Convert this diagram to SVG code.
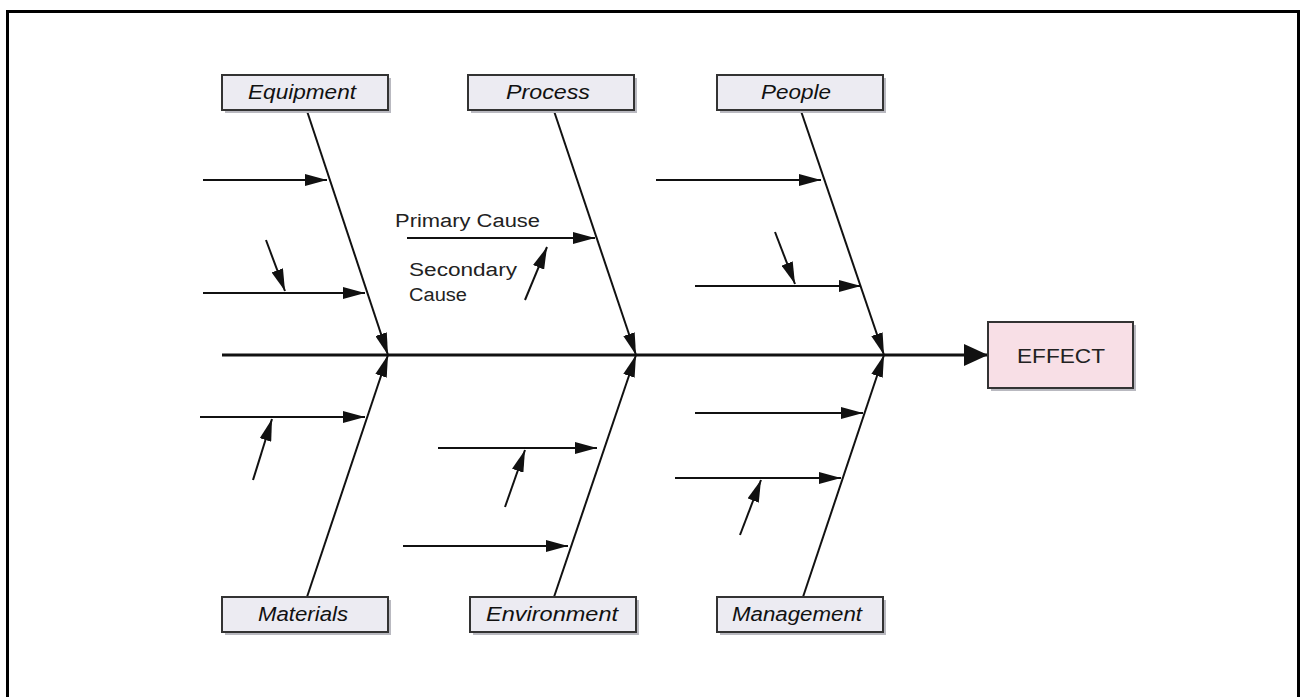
<svg xmlns="http://www.w3.org/2000/svg" width="1304" height="697" viewBox="0 0 1304 697">
  <style>
    .frame { fill: none; stroke: #000; stroke-width: 3; }
    .cat rect.box { fill: #ecebf2; stroke: #333; stroke-width: 2; }
    .shadow { fill: #b9b9c0; }
    .cat text { font-family: "Liberation Sans", Arial, sans-serif; font-style: italic; font-size: 20px; fill: #111; text-anchor: middle; }
    .effect rect.box { fill: #f8dfe6; stroke: #333; stroke-width: 2; }
    .effect text { font-family: "Liberation Sans", Arial, sans-serif; font-size: 21px; fill: #222; text-anchor: middle; }
    .note { font-family: "Liberation Sans", Arial, sans-serif; font-size: 18px; fill: #222; }
    .bone { stroke: #111; stroke-width: 2; fill: none; marker-end: url(#head); }
    .spine { stroke: #111; stroke-width: 3; fill: none; marker-end: url(#bighead); }
  </style>
  <defs>
    <marker id="head" viewBox="0 0 22 12" refX="22" refY="6" markerWidth="22" markerHeight="12" markerUnits="userSpaceOnUse" orient="auto">
      <path d="M0,0 L22,6 L0,12 Z" fill="#111"/>
    </marker>
    <marker id="bighead" viewBox="0 0 24 22" refX="24" refY="11" markerWidth="24" markerHeight="22" markerUnits="userSpaceOnUse" orient="auto">
      <path d="M0,0 L24,11 L0,22 Z" fill="#111"/>
    </marker>
  </defs>

  <rect x="0" y="0" width="1304" height="697" fill="#fff"/>
  <path class="frame" d="M7.5,700 V11.5 H1298.5 V700"/>

  <!-- connectors -->
  <g id="connectors">
    <line class="spine" x1="222" y1="355" x2="988" y2="355"/>
    <!-- main category bones -->
    <line class="bone" x1="307" y1="111" x2="388" y2="355"/>
    <line class="bone" x1="554" y1="111" x2="636" y2="355"/>
    <line class="bone" x1="801" y1="111" x2="884" y2="355"/>
    <line class="bone" x1="307" y1="597" x2="388" y2="355"/>
    <line class="bone" x1="554" y1="597" x2="636" y2="355"/>
    <line class="bone" x1="803" y1="597" x2="884" y2="355"/>
    <!-- Equipment causes -->
    <line class="bone" x1="203" y1="180" x2="327" y2="180"/>
    <line class="bone" x1="203" y1="293" x2="365" y2="293"/>
    <line class="bone" x1="266" y1="240" x2="285" y2="291"/>
    <!-- Process causes -->
    <line class="bone" x1="407" y1="238" x2="595" y2="238"/>
    <line class="bone" x1="525" y1="300" x2="547" y2="247"/>
    <!-- People causes -->
    <line class="bone" x1="656" y1="180" x2="821" y2="180"/>
    <line class="bone" x1="695" y1="286" x2="861" y2="286"/>
    <line class="bone" x1="775" y1="232" x2="795" y2="284"/>
    <!-- Materials causes -->
    <line class="bone" x1="200" y1="417" x2="365" y2="417"/>
    <line class="bone" x1="253" y1="480" x2="272" y2="419"/>
    <!-- Environment causes -->
    <line class="bone" x1="438" y1="448" x2="597" y2="448"/>
    <line class="bone" x1="505" y1="507" x2="525" y2="450"/>
    <line class="bone" x1="403" y1="546" x2="568" y2="546"/>
    <!-- Management causes -->
    <line class="bone" x1="695" y1="413" x2="863" y2="413"/>
    <line class="bone" x1="675" y1="478" x2="841" y2="478"/>
    <line class="bone" x1="740" y1="535" x2="761" y2="480"/>
  </g>

  <g id="equipment" class="cat">
    <rect class="shadow" x="225" y="78" width="166" height="35"/>
    <rect class="box" x="222" y="75" width="166" height="35"/>
    <text x="302" y="99" textLength="108" lengthAdjust="spacingAndGlyphs">Equipment</text>
  </g>
  <g id="process" class="cat">
    <rect class="shadow" x="471" y="78" width="166" height="35"/>
    <rect class="box" x="468" y="75" width="166" height="35"/>
    <text x="548" y="99" textLength="84" lengthAdjust="spacingAndGlyphs">Process</text>
  </g>
  <g id="people" class="cat">
    <rect class="shadow" x="720" y="78" width="166" height="35"/>
    <rect class="box" x="717" y="75" width="166" height="35"/>
    <text x="796" y="99" textLength="70" lengthAdjust="spacingAndGlyphs">People</text>
  </g>
  <g id="materials" class="cat">
    <rect class="shadow" x="225" y="600" width="166" height="35"/>
    <rect class="box" x="222" y="597" width="166" height="35"/>
    <text x="303" y="621" textLength="90" lengthAdjust="spacingAndGlyphs">Materials</text>
  </g>
  <g id="environment" class="cat">
    <rect class="shadow" x="473" y="600" width="166" height="35"/>
    <rect class="box" x="470" y="597" width="166" height="35"/>
    <text x="552" y="621" textLength="132" lengthAdjust="spacingAndGlyphs">Environment</text>
  </g>
  <g id="management" class="cat">
    <rect class="shadow" x="720" y="600" width="166" height="35"/>
    <rect class="box" x="717" y="597" width="166" height="35"/>
    <text x="797" y="621" textLength="130" lengthAdjust="spacingAndGlyphs">Management</text>
  </g>
  <g id="effect" class="effect">
    <rect class="shadow" x="991" y="325" width="145" height="66"/>
    <rect class="box" x="988" y="322" width="145" height="66"/>
    <text x="1061" y="363" textLength="88" lengthAdjust="spacingAndGlyphs">EFFECT</text>
  </g>

  <g id="legend">
    <text class="note" x="395" y="227" textLength="145" lengthAdjust="spacingAndGlyphs">Primary Cause</text>
    <text class="note" x="409" y="276" textLength="108" lengthAdjust="spacingAndGlyphs">Secondary</text>
    <text class="note" x="409" y="301" textLength="58" lengthAdjust="spacingAndGlyphs">Cause</text>
  </g>
</svg>
